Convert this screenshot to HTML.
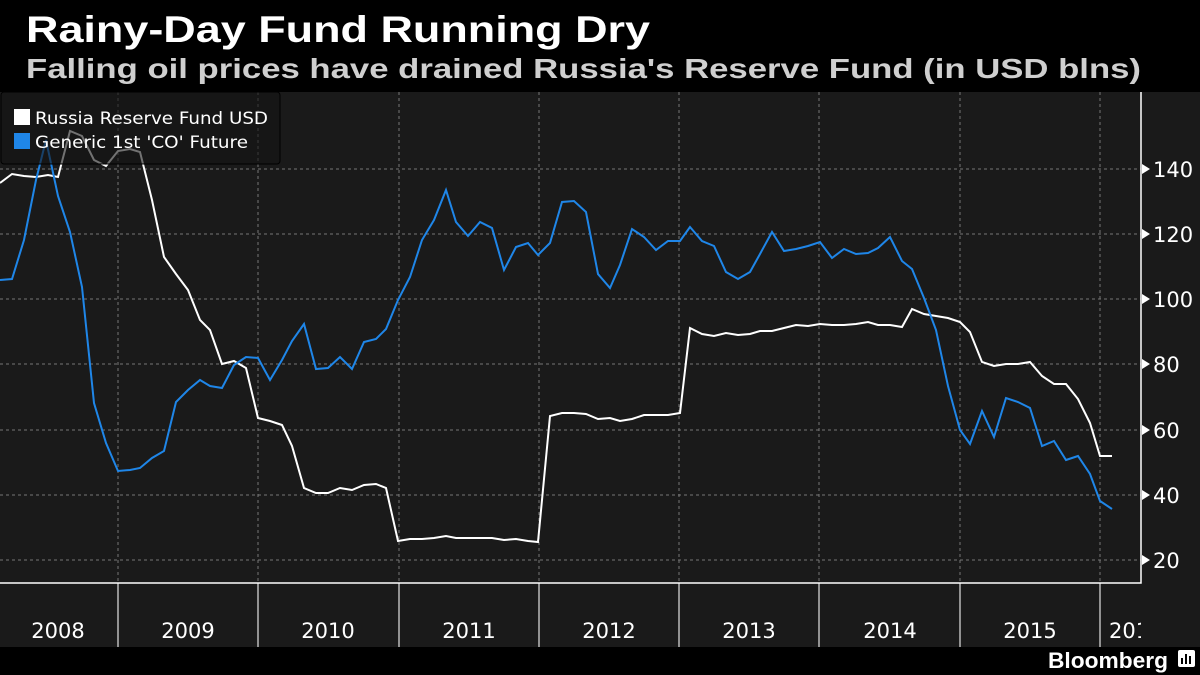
<!DOCTYPE html>
<html><head><meta charset="utf-8"><style>body{margin:0;background:#000}svg{display:block}</style></head><body>
<svg width="1200" height="675" xmlns="http://www.w3.org/2000/svg" font-family="Liberation Sans, DejaVu Sans, sans-serif">
<rect width="1200" height="675" fill="#000"/>
<text x="26" y="42" fill="#fff" font-size="37" font-weight="bold" textLength="624" lengthAdjust="spacingAndGlyphs">Rainy-Day Fund Running Dry</text>
<text x="26" y="78" fill="#cfcfcf" font-size="28" font-weight="bold" textLength="1115" lengthAdjust="spacingAndGlyphs">Falling oil prices have drained Russia's Reserve Fund (in USD blns)</text>
<rect x="0" y="92" width="1200" height="555" fill="#1a1a1a"/>
<g stroke="#777" stroke-dasharray="3,3" stroke-width="1">
<line x1="0" x2="1141" y1="169" y2="169"/><line x1="0" x2="1141" y1="234" y2="234"/><line x1="0" x2="1141" y1="299" y2="299"/><line x1="0" x2="1141" y1="364" y2="364"/><line x1="0" x2="1141" y1="430" y2="430"/><line x1="0" x2="1141" y1="495" y2="495"/><line x1="0" x2="1141" y1="560" y2="560"/>
<line x1="118" x2="118" y1="92" y2="583"/><line x1="258" x2="258" y1="92" y2="583"/><line x1="399" x2="399" y1="92" y2="583"/><line x1="539" x2="539" y1="92" y2="583"/><line x1="679" x2="679" y1="92" y2="583"/><line x1="819" x2="819" y1="92" y2="583"/><line x1="960" x2="960" y1="92" y2="583"/><line x1="1100" x2="1100" y1="92" y2="583"/>
</g>
<g stroke="#bbb" stroke-width="1.5">
<line x1="118" x2="118" y1="583" y2="647"/><line x1="258" x2="258" y1="583" y2="647"/><line x1="399" x2="399" y1="583" y2="647"/><line x1="539" x2="539" y1="583" y2="647"/><line x1="679" x2="679" y1="583" y2="647"/><line x1="819" x2="819" y1="583" y2="647"/><line x1="960" x2="960" y1="583" y2="647"/><line x1="1100" x2="1100" y1="583" y2="647"/>
</g>
<path d="M1141 92V583H0" fill="none" stroke="#fff" stroke-width="1.5"/>
<g fill="#fff"><path d="M1142 164l8 5-8 5z"/><path d="M1142 229l8 5-8 5z"/><path d="M1142 294l8 5-8 5z"/><path d="M1142 359l8 5-8 5z"/><path d="M1142 425l8 5-8 5z"/><path d="M1142 490l8 5-8 5z"/><path d="M1142 555l8 5-8 5z"/></g>
<g fill="#fff" font-size="21" font-family="DejaVu Sans, sans-serif">
<text x="1153" y="177">140</text><text x="1153" y="242">120</text><text x="1153" y="307">100</text><text x="1153" y="372">80</text><text x="1153" y="438">60</text><text x="1153" y="503">40</text><text x="1153" y="568">20</text>
</g>
<g fill="#fff" font-size="21" text-anchor="middle" font-family="DejaVu Sans, sans-serif">
<text x="58" y="638">2008</text><text x="188" y="638">2009</text><text x="328" y="638">2010</text><text x="469" y="638">2011</text><text x="609" y="638">2012</text><text x="749" y="638">2013</text><text x="890" y="638">2014</text><text x="1030" y="638">2015</text>
</g>
<svg x="1100" y="583" width="41" height="64"><text x="9" y="55" fill="#fff" font-size="21" font-family="DejaVu Sans, sans-serif">2016</text></svg>
<polyline fill="none" stroke="#fff" stroke-width="2" points="0,183 12,174 24,176 36,177 48,175 58,177 70,131 82,136 94,160 106,166 118,151 130,149 140,152 152,200 164,257 176,274 188,290 200,320 210,330 222,364 234,361 246,368 258,418 270,421 282,425 292,446 304,488 316,493 328,493 340,488 352,490 364,485 376,484 386,488 398,541 410,539 422,539 434,538 446,536 456,538 468,538 480,538 492,538 504,540 516,539 528,541 538,542 550,416 562,413 574,413 586,414 598,419 610,418 620,421 632,419 644,415 656,415 668,415 680,413 690,328 702,334 714,336 726,333 738,335 750,334 760,331 772,331 784,328 796,325 808,326 820,324 832,325 844,325 856,324 868,322 878,325 890,325 902,327 912,309 924,314 936,316 948,318 960,322 970,332 982,362 994,366 1006,364 1018,364 1030,362 1042,376 1054,384 1066,384 1078,399 1090,423 1100,456 1112,456"/>
<polyline fill="none" stroke="#1f86e8" stroke-width="2" points="0,280 12,279 24,240 36,180 46,140 58,196 70,232 82,287 94,403 106,443 118,471 130,470 140,468 152,458 164,451 176,402 188,390 200,380 210,386 222,388 234,365 246,357 258,358 270,380 282,360 292,341 304,324 316,369 328,368 340,357 352,369 364,342 376,339 386,329 398,300 410,277 422,240 434,220 446,190 456,222 468,236 480,222 492,228 504,270 516,247 528,243 538,255 550,243 562,202 574,201 586,212 598,274 610,288 620,265 632,229 644,237 656,250 668,241 680,241 690,227 702,241 714,246 726,272 738,279 750,272 760,254 772,232 784,251 796,249 808,246 820,242 832,258 844,249 856,254 868,253 878,248 890,237 902,261 912,269 924,298 936,330 948,386 960,430 970,444 982,411 994,437 1006,398 1018,402 1030,408 1042,446 1054,441 1066,460 1078,456 1090,474 1100,501 1112,509"/>
<rect x="1" y="92" width="279" height="72" rx="3" fill="#141414" fill-opacity="0.6" stroke="#000" stroke-width="1"/>
<rect x="14" y="109" width="16" height="16" fill="#fff"/>
<rect x="14" y="133" width="16" height="16" fill="#1f86e8"/>
<text x="35" y="124" fill="#fff" font-size="17" font-family="DejaVu Sans, sans-serif" textLength="233" lengthAdjust="spacingAndGlyphs">Russia Reserve Fund USD</text>
<text x="35" y="148" fill="#fff" font-size="17" font-family="DejaVu Sans, sans-serif" textLength="213" lengthAdjust="spacingAndGlyphs">Generic 1st 'CO' Future</text>
<text x="1048" y="668" fill="#fff" font-size="22" font-weight="bold" textLength="120" lengthAdjust="spacingAndGlyphs">Bloomberg</text>
<rect x="1178" y="650" width="17" height="17" rx="2" fill="#fff"/>
<g stroke="#000" stroke-width="2"><line x1="1182" y1="664" x2="1182" y2="658"/><line x1="1186" y1="664" x2="1186" y2="654"/><line x1="1190" y1="664" x2="1190" y2="656"/></g>
</svg>
</body></html>
